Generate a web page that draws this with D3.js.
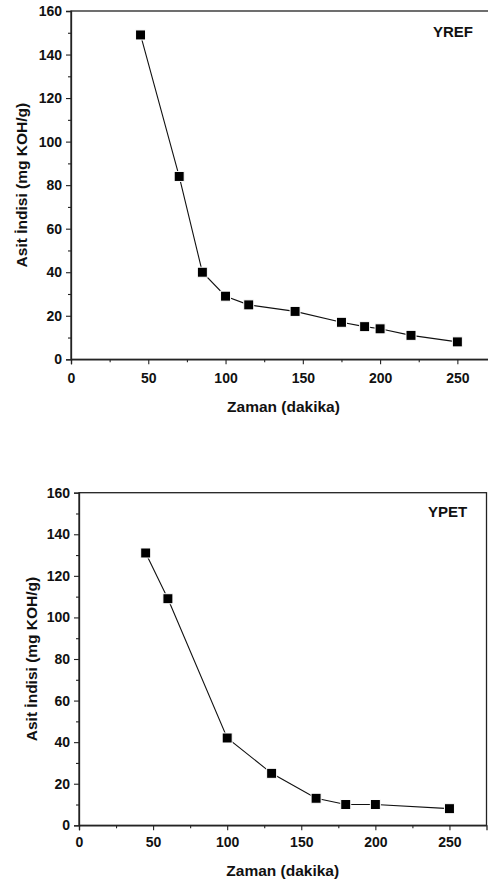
<!DOCTYPE html>
<html>
<head>
<meta charset="utf-8">
<script src="https://cdn.jsdelivr.net/npm/d3@7"></script>
<style>
  body { margin: 0; background: #fff; }
  text { font-family: "Liberation Sans", Arial, sans-serif; font-weight: bold; fill: #111; }
</style>
</head>
<body>
<div id="chart"></div>
<script>
// YREF series
const yrefTime = [45, 70, 85, 100, 115, 145, 175, 190, 200, 220, 250];
const yrefAcid = [149, 84, 40, 29, 25, 22, 17, 15, 14, 11, 8];

// YPET series
const ypetTime = [45, 60, 100, 130, 160, 180, 200, 250];
const ypetAcid = [131, 109, 42, 25, 13, 10, 10, 8];

const xTicks = [0, 50, 100, 150, 200, 250];
const yTicks = [0, 20, 40, 60, 80, 100, 120, 140, 160];
const xTitle = "Zaman (dakika)";
const yTitle = "Asit İndisi (mg KOH/g)";

const svg = d3.select("#chart")
  .append("svg")
  .attr("width", 488)
  .attr("height", 883);

// one panel: frame position, data, label
function drawPanel(p) {
  const width = p.right - p.left,
        height = p.bottom - p.top;

  const g = svg.append("g")
    .attr("transform", `translate(${p.left},${p.top})`);

  const x = d3.scaleLinear().domain([0, 275]).range([0, width]);
  const y = d3.scaleLinear().domain([0, 160]).range([height, 0]);

  // frame
  g.append("rect")
    .attr("width", width)
    .attr("height", height)
    .attr("fill", "none")
    .attr("stroke", "#222")
    .attr("stroke-width", 1.3);

  // minor ticks
  g.append("g")
    .attr("transform", `translate(0,${height})`)
    .call(d3.axisBottom(x).tickValues(d3.range(25, 275, 50)).tickSize(3).tickFormat(""))
    .call(a => a.select(".domain").remove());
  g.append("g")
    .call(d3.axisLeft(y).tickValues(d3.range(10, 160, 20)).tickSize(3).tickFormat(""))
    .call(a => a.select(".domain").remove());

  // major axes
  const xa = g.append("g")
    .attr("transform", `translate(0,${height})`)
    .call(d3.axisBottom(x).tickValues(xTicks).tickSize(5).tickPadding(p.xPad));
  const ya = g.append("g")
    .call(d3.axisLeft(y).tickValues(yTicks).tickSize(5).tickPadding(4));

  [xa, ya].forEach(a => {
    a.select(".domain").attr("stroke", "#222").attr("stroke-width", 1.3);
    a.selectAll(".tick text").style("font-size", "14px").style("font-family", "Liberation Sans, Arial, sans-serif").style("font-weight", "bold").attr("fill", "#111");
  });
  g.selectAll(".tick line").attr("stroke", "#222").attr("stroke-width", 1.1);

  // axis titles
  g.append("text")
    .attr("x", width / 2)
    .attr("y", p.xTitleY - p.top)
    .attr("text-anchor", "middle")
    .style("font-size", "15.5px")
    .text(xTitle);

  g.append("text")
    .attr("transform", "rotate(-90)")
    .attr("x", -height / 2)
    .attr("y", p.yTitleX - p.left)
    .attr("text-anchor", "middle")
    .style("font-size", "15.5px")
    .text(yTitle);

  // series label
  g.append("text")
    .attr("x", p.labelX - p.left)
    .attr("y", p.labelY - p.top)
    .style("font-size", "15px")
    .text(p.label);

  const pts = p.times.map((t, i) => ({ t: t, v: p.values[i] }));

  g.append("path")
    .datum(pts)
    .attr("fill", "none")
    .attr("stroke", "#111")
    .attr("stroke-width", 1.1)
    .attr("d", d3.line().x(d => x(d.t)).y(d => y(d.v)));

  g.selectAll("rect.pt")
    .data(pts)
    .enter()
    .append("rect")
    .attr("class", "pt")
    .attr("x", d => x(d.t) - 5)
    .attr("y", d => y(d.v) - 5)
    .attr("width", 10)
    .attr("height", 10)
    .attr("fill", "#000")
    .attr("stroke", "#fff")
    .attr("stroke-width", 1);
}

drawPanel({
  left: 71, right: 496, top: 11, bottom: 359.3,
  xPad: 9, xTitleY: 412, yTitleX: 27,
  label: "YREF", labelX: 433, labelY: 37,
  times: yrefTime, values: yrefAcid
});

drawPanel({
  left: 79, right: 486.5, top: 492.7, bottom: 825.3,
  xPad: 7, xTitleY: 876, yTitleX: 37,
  label: "YPET", labelX: 428, labelY: 517,
  times: ypetTime, values: ypetAcid
});
</script>
</body>
</html>
